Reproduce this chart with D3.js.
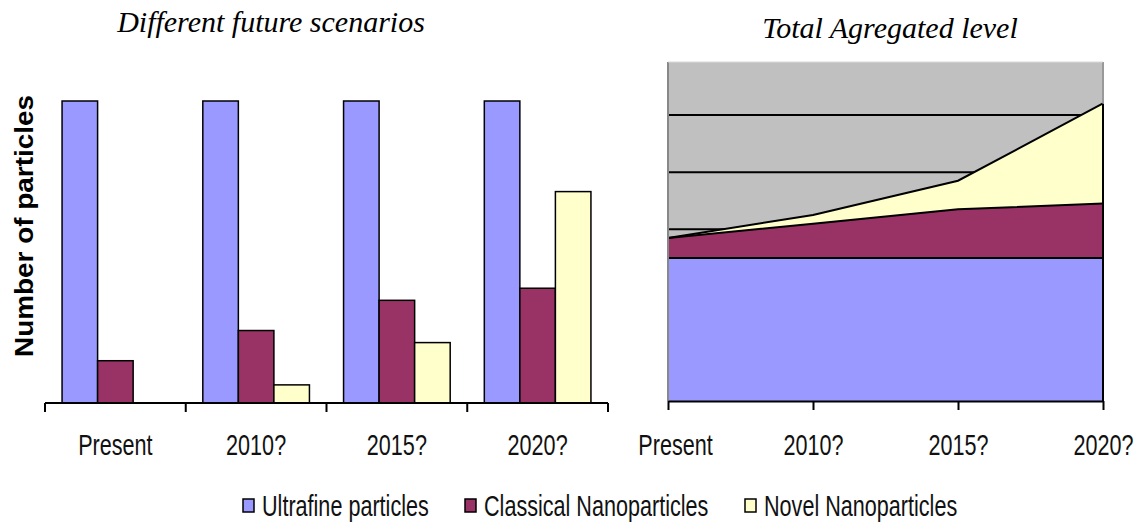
<!DOCTYPE html>
<html>
<head>
<meta charset="utf-8">
<script src="https://cdn.jsdelivr.net/npm/d3@7"></script>
<style>
  body { margin: 0; background: #fff; }
  svg { display: block; }
  .lbl { font-family: "Liberation Sans", Arial, sans-serif; font-size: 30px; fill: #111; }
  .ttl { font-family: "Liberation Serif", "Times New Roman", serif; font-style: italic; font-size: 30px; fill: #000; }
</style>
</head>
<body>
<svg width="1141" height="522"></svg>
<script>
// values (ultrafine = 100 reference level)
var categories = ["Present", "2010?", "2015?", "2020?"];
var series = ["Ultrafine particles", "Classical Nanoparticles", "Novel Nanoparticles"];
var ultrafine = [100, 100, 100, 100];
var classical = [14, 24, 34, 38];
var novel = [0, 6, 20, 70];
var gridValues = [40, 80, 120, 160, 200];

var colors = ["#9999ff", "#993366", "#ffffcc"];
var NARROW = 0.72; // the original uses a condensed, tall sans

var rows = categories.map(function(c, i) {
  var r = {cat: c};
  r[series[0]] = ultrafine[i];
  r[series[1]] = classical[i];
  r[series[2]] = novel[i];
  return r;
});

var svg = d3.select("svg");

// ---------- left: grouped bars ----------
var x0 = d3.scaleBand().domain(categories).range([45, 608]),
    x1 = d3.scaleBand().domain(series).range([0, x0.bandwidth()]).paddingOuter(0.48),
    y = d3.scaleLinear().domain([0, 100]).range([403, 101]);

svg.append("text").attr("class", "ttl")
    .attr("x", 271).attr("y", 32).attr("text-anchor", "middle")
    .text("Different future scenarios");

svg.append("text")
    .attr("transform", "translate(33,226) rotate(-90)")
    .attr("text-anchor", "middle")
    .style("font-family", "'Liberation Sans', Arial, sans-serif")
    .style("font-weight", "bold").style("font-size", "25px")
    .attr("textLength", 262).attr("lengthAdjust", "spacingAndGlyphs")
    .text("Number of particles");

var grp = svg.append("g").selectAll("g").data(rows).enter().append("g")
    .attr("transform", function(d) { return "translate(" + x0(d.cat) + ",0)"; });

grp.selectAll("rect")
    .data(function(d) { return series.map(function(s, i) { return {key: s, value: d[s], i: i}; }); })
    .enter().filter(function(d) { return d.value > 0; })
    .append("rect")
    .attr("x", function(d) { return x1(d.key); })
    .attr("y", function(d) { return y(d.value); })
    .attr("width", x1.bandwidth())
    .attr("height", function(d) { return y(0) - y(d.value); })
    .attr("fill", function(d) { return colors[d.i]; })
    .attr("stroke", "#000").attr("stroke-width", 1.5);

var leftAxis = svg.append("g").attr("transform", "translate(0," + y(0) + ")")
    .call(d3.axisBottom(x0).tickSize(0).tickPadding(31));
leftAxis.select(".domain").remove();
leftAxis.selectAll("text").attr("class", "lbl").attr("font-size", null).attr("font-family", null)
    .attr("transform", "scale(" + NARROW + ",1)");
var edges = categories.map(function(c) { return x0(c); }).concat([x0.range()[1]]);
leftAxis.append("line").attr("x1", edges[0]).attr("x2", edges[edges.length - 1])
    .attr("stroke", "#000").attr("stroke-width", 2);
leftAxis.selectAll("line.tk").data(edges).enter().append("line")
    .attr("x1", function(d) { return d; }).attr("x2", function(d) { return d; })
    .attr("y1", 0).attr("y2", 9).attr("stroke", "#000").attr("stroke-width", 2);

// ---------- right: stacked area ----------
var xp = d3.scalePoint().domain(categories).range([668, 1103]),
    y2 = d3.scaleLinear().domain([0, 237]).range([401, 62]);

svg.append("text").attr("class", "ttl")
    .attr("x", 890).attr("y", 38).attr("text-anchor", "middle")
    .text("Total Agregated level");

svg.append("rect").attr("x", 668).attr("y", y2(237))
    .attr("width", 1103 - 668).attr("height", y2(0) - y2(237))
    .attr("fill", "#c0c0c0");

svg.append("g").selectAll("line").data(gridValues).enter().append("line")
    .attr("x1", 668).attr("x2", 1103)
    .attr("y1", function(d) { return y2(d); }).attr("y2", function(d) { return y2(d); })
    .attr("stroke", "#000").attr("stroke-width", 2);

var stack = d3.stack().keys(series)(rows);
var area = d3.area()
    .x(function(d) { return xp(d.data.cat); })
    .y0(function(d) { return y2(d[0]); })
    .y1(function(d) { return y2(d[1]); });
var topLine = d3.line()
    .x(function(d) { return xp(d.data.cat); })
    .y(function(d) { return y2(d[1]); });

svg.append("g").selectAll("path").data(stack).enter().append("path")
    .attr("d", area)
    .attr("fill", function(d, i) { return colors[i]; });
svg.append("g").selectAll("path").data(stack).enter().append("path")
    .attr("d", topLine)
    .attr("fill", "none").attr("stroke", "#000").attr("stroke-width", 2);

var last = stack[stack.length - 1][categories.length - 1];
svg.append("line").attr("x1", 1103).attr("x2", 1103)
    .attr("y1", y2(last[1])).attr("y2", y2(0))
    .attr("stroke", "#000").attr("stroke-width", 2);
svg.append("line").attr("x1", 1103).attr("x2", 1103)
    .attr("y1", y2(237)).attr("y2", y2(last[1]))
    .attr("stroke", "#999").attr("stroke-width", 2);
svg.append("line").attr("x1", 668).attr("x2", 668)
    .attr("y1", y2(237)).attr("y2", y2(0))
    .attr("stroke", "#888").attr("stroke-width", 2);
svg.append("line").attr("x1", 668).attr("x2", 1103)
    .attr("y1", y2(237)).attr("y2", y2(237))
    .attr("stroke", "#d8d8d8").attr("stroke-width", 1);

var rightAxis = svg.append("g").attr("transform", "translate(0," + y2(0) + ")")
    .call(d3.axisBottom(xp).tickSize(9).tickSizeOuter(0).tickPadding(24));
rightAxis.select(".domain").attr("stroke-width", 2);
rightAxis.selectAll(".tick line").attr("stroke-width", 2);
rightAxis.selectAll("text").attr("class", "lbl").attr("font-size", null).attr("font-family", null)
    .attr("transform", "scale(" + NARROW + ",1)");
// first label sits a little right of its tick in the original
rightAxis.selectAll(".tick").filter(function(d) { return d === categories[0]; })
    .select("text").attr("x", 7 / NARROW);

// ---------- legend ----------
var legendX = [243, 465, 745];
var lg = svg.append("g").selectAll("g").data(series).enter().append("g")
    .attr("transform", function(d, i) { return "translate(" + legendX[i] + ",499)"; });
lg.append("rect").attr("width", 11).attr("height", 13)
    .attr("fill", function(d, i) { return colors[i]; })
    .attr("stroke", "#000").attr("stroke-width", 1.5);
lg.append("text").attr("class", "lbl")
    .attr("transform", "translate(19,17) scale(" + NARROW + ",1)")
    .text(function(d) { return d; });
</script>
</body>
</html>
